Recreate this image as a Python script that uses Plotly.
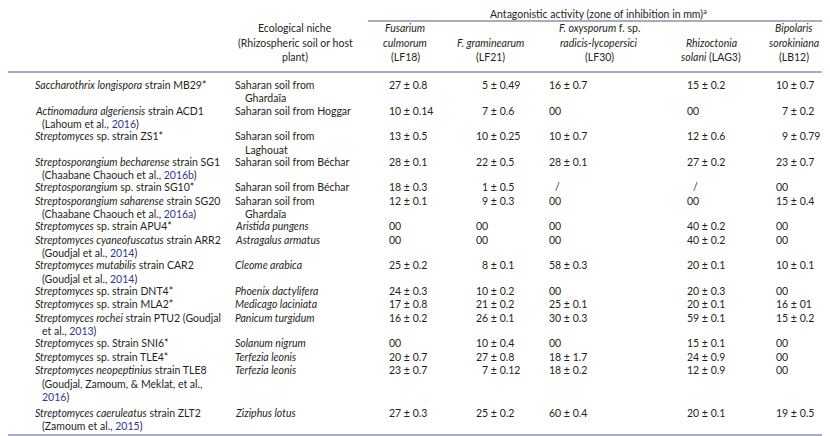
import re
import plotly.graph_objects as go

# ---------------- data ----------------
strains = [
    ["<i>Saccharothrix longispora</i> strain MB29*"],
    ["<i>Actinomadura algeriensis</i> strain ACD1", "(Lahoum et al., 2016)"],
    ["<i>Streptomyces</i> sp. strain ZS1*"],
    ["<i>Streptosporangium becharense</i> strain SG1", "(Chaabane Chaouch et al., 2016b)"],
    ["<i>Streptosporangium</i> sp. strain SG10*"],
    ["<i>Streptosporangium saharense</i> strain SG20", "(Chaabane Chaouch et al., 2016a)"],
    ["<i>Streptomyces</i> sp. strain APU4*"],
    ["<i>Streptomyces cyaneofuscatus</i> strain ARR2", "(Goudjal et al., 2014)"],
    ["<i>Streptomyces mutabilis</i> strain CAR2", "(Goudjal et al., 2014)"],
    ["<i>Streptomyces</i> sp. strain DNT4*"],
    ["<i>Streptomyces</i> sp. strain MLA2*"],
    ["<i>Streptomyces rochei</i> strain PTU2 (Goudjal", "et al., 2013)"],
    ["<i>Streptomyces</i> sp. Strain SNI6*"],
    ["<i>Streptomyces</i> sp. strain TLE4*"],
    ["<i>Streptomyces neopeptinius</i> strain TLE8", "(Goudjal, Zamoum, & Meklat, et al.,", "2016)"],
    ["<i>Streptomyces caeruleatus</i> strain ZLT2", "(Zamoum et al., 2015)"],
]

niches = [
    ["Saharan soil from", "Ghardaïa"],
    ["Saharan soil from Hoggar"],
    ["Saharan soil from", "Laghouat"],
    ["Saharan soil from Béchar"],
    ["Saharan soil from Béchar"],
    ["Saharan soil from", "Ghardaïa"],
    ["<i>Aristida pungens</i>"],
    ["<i>Astragalus armatus</i>"],
    ["<i>Cleome arabica</i>"],
    ["<i>Phoenix dactylifera</i>"],
    ["<i>Medicago laciniata</i>"],
    ["<i>Panicum turgidum</i>"],
    ["<i>Solanum nigrum</i>"],
    ["<i>Terfezia leonis</i>"],
    ["<i>Terfezia leonis</i>"],
    ["<i>Ziziphus lotus</i>"],
]

lf18 = ["27 ± 0.8", "10 ± 0.14", "13 ± 0.5", "28 ± 0.1", "18 ± 0.3", "12 ± 0.1", "00", "00",
        "25 ± 0.2", "24 ± 0.3", "17 ± 0.8", "16 ± 0.2", "00", "20 ± 0.7", "23 ± 0.7", "27 ± 0.3"]
lf21 = ["5 ± 0.49", "7 ± 0.6", "10 ± 0.25", "22 ± 0.5", "1 ± 0.5", "9 ± 0.3", "00", "00",
        "8 ± 0.1", "10 ± 0.2", "21 ± 0.2", "26 ± 0.1", "10 ± 0.4", "27 ± 0.8", "7 ± 0.12", "25 ± 0.2"]
lf30 = ["16 ± 0.7", "00", "10 ± 0.7", "28 ± 0.1", "/", "00", "00", "00",
        "58 ± 0.3", "00", "25 ± 0.1", "30 ± 0.3", "00", "18 ± 1.7", "18 ± 0.2", "60 ± 0.4"]
lag3 = ["15 ± 0.2", "00", "12 ± 0.6", "27 ± 0.2", "/", "00", "40 ± 0.2", "40 ± 0.2",
        "20 ± 0.1", "20 ± 0.3", "20 ± 0.1", "59 ± 0.1", "15 ± 0.1", "24 ± 0.9", "12 ± 0.9", "20 ± 0.1"]
lb12 = ["10 ± 0.7", "7 ± 0.2", "9 ± 0.79", "23 ± 0.7", "00", "15 ± 0.4", "00", "00",
        "10 ± 0.1", "00", "16 ± 01", "15 ± 0.2", "00", "00", "00", "19 ± 0.5"]

value_columns = [lf18, lf21, lf30, lag3, lb12]

niche_header = ["Ecological niche", "(Rhizospheric soil or host", "plant)"]
pathogen_headers = [
    ["<i>Fusarium</i>", "<i>culmorum</i>", "(LF18)"],
    ["<i>F. graminearum</i>", "(LF21)"],
    ["<i>F. oxysporum</i> f. sp.", "<i>radicis-lycopersici</i>", "(LF30)"],
    ["<i>Rhizoctonia</i>", "<i>solani</i> (LAG3)"],
    ["<i>Bipolaris</i>", "<i>sorokiniana</i>", "(LB12)"],
]
spanner = "Antagonistic activity (zone of inhibition in mm)<sup>a</sup>"
footnote = "deviation from three replicates."

# ---------------- style / layout ----------------
FONT = "Lato"
FS = 10.5
TXT = "#231f20"
BLUE = "#2e3a92"
RULE = "#8e8eb4"
W, H = 830, 436

X_STRAIN, X_STRAIN_IND = 26, 33
X_NICHE, X_NICHE_IND = 226, 236
X_NICHE_HDR = 287
VAL_X = [380, 467, 540, 678, 767]
HDR_X = [397, 482, 591, 703, 786]
Y_FIRST = 77
LINE_PITCH = 13.3                      # line spacing inside a cell
ROW_HEIGHT = {1: 13.4, 2: 25.6, 3: 42.4}  # row advance by number of lines
HDR_BOTTOM, HDR_PITCH = 49, 14.5

fig = go.Figure()
fig.update_layout(
    width=W, height=H, margin=dict(l=0, r=0, t=0, b=0),
    paper_bgcolor="white", plot_bgcolor="white", showlegend=False,
    xaxis=dict(range=[0, W], visible=False, fixedrange=True),
    yaxis=dict(range=[H, 0], visible=False, fixedrange=True),
    font=dict(family=FONT, size=FS, color=TXT),
)


def blue_years(s):
    return re.sub(r"\b(20\d\d[ab]?)\b", r'<span style="color:%s">\1</span>' % BLUE, s)


def add(x, y, text, anchor="left", size=FS):
    fig.add_annotation(x=x, y=y, xref="x", yref="y", text=text, showarrow=False,
                       xanchor=anchor, yanchor="middle", align=anchor,
                       font=dict(family=FONT, size=size, color=TXT), borderpad=0)


def pad(v):
    head = v.split(" ")[0]
    return ("\u2007" + v) if len(head) == 1 else v


# header
add(590, 5, spanner, "center")
for i, line in enumerate(niche_header):
    add(X_NICHE_HDR, HDR_BOTTOM - (len(niche_header) - 1 - i) * HDR_PITCH, line, "center")
for cx, lines in zip(HDR_X, pathogen_headers):
    for i, line in enumerate(lines):
        add(cx, HDR_BOTTOM - (len(lines) - 1 - i) * HDR_PITCH, line, "center")

# body
y = Y_FIRST
for r in range(len(strains)):
    for j, line in enumerate(strains[r]):
        add(X_STRAIN if j == 0 else X_STRAIN_IND, y + j * LINE_PITCH, blue_years(line))
    for j, line in enumerate(niches[r]):
        add(X_NICHE if j == 0 else X_NICHE_IND, y + j * LINE_PITCH, line)
    for cx, col in zip(VAL_X, value_columns):
        add(cx, y, pad(col[r]))
    y += ROW_HEIGHT[max(len(strains[r]), len(niches[r]))]

# rules
fig.add_shape(type="line", x0=360, x1=W, y0=13, y1=13, xref="x", yref="y",
              line=dict(color=RULE, width=1.5))
fig.add_shape(type="line", x0=0, x1=W, y0=64, y1=64, xref="x", yref="y",
              line=dict(color=RULE, width=1.5))
fig.add_shape(type="line", x0=0, x1=W, y0=427, y1=427, xref="x", yref="y",
              line=dict(color=RULE, width=1.5))

# footnote (cut off at the bottom edge of the page, paper-referenced so it is not hidden)
fig.add_annotation(x=0, y=(H - 437) / H, xref="paper", yref="paper", text=footnote,
                   showarrow=False, xanchor="left", yanchor="middle", xshift=-2,
                   font=dict(family=FONT, size=FS, color=TXT), borderpad=0)

fig.write_html("out.html")
